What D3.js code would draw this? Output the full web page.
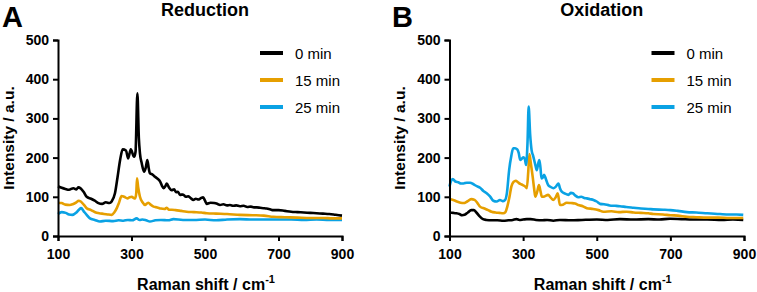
<!DOCTYPE html>
<html><head><meta charset="utf-8">
<script src="https://cdn.jsdelivr.net/npm/d3@7"></script>
<style>body{margin:0;background:#fff}svg{display:block;font-family:"Liberation Sans",Arial,sans-serif}</style>
</head><body><svg id="c" width="757" height="292"></svg>
<script>
const seriesNames = ["0 min","15 min","25 min"];
const seriesColors = ["#000000","#E69F00","#0AA2E4"];
const xTicks = [100,300,500,700,900];
const yTicks = [0,100,200,300,400,500];
const panelTitles = ["Reduction","Oxidation"];
const panelLetters = ["A","B"];

// Reduction
const redX0 = [100,110,120,130,142,150,155,162,170,178,190,200,210,220,230,240,246,255,262,269,276,285,291,298,307,311,316,320,323,328,334,339,343,347,350,357,364,371,378,383,387,392,396,402,409,416,421,426,432,440,448,455,462,468,475,482,488,495,500,505,515,525,533,541,550,560,568,577,585,595,605,615,625,633,641,650,660,668,677,686,700,720,740,760,780,800,820,840,860,880,900];
const redY0 = [127,123,120,118,122,119,124,121,112,100,95,90,84,82,86,84,88,109,150,194,221,218,198,221,202,215,364,250,211,185,164,175,194,172,160,157,151,146,139,128,122,127,134,124,117,119,112,113,105,106,100,101,96,92,95,93,96,99,90,82,85,84,82,79,81,78,79,77,78,76,77,74,75,73,73,72,71,70,68,66,66,64,62,61,60,59,58,57,56,54,52];
const redX15 = [100,110,120,132,140,150,156,162,170,178,190,205,220,235,246,253,260,266,273,280,289,295,301,306,310,313,315,318,323,330,337,342,346,352,360,370,380,390,396,402,410,420,435,450,470,490,505,530,560,595,630,660,686,720,760,800,840,870,900];
const redY15 = [85,84,80,79,81,86,90,88,80,71,66,59,57,55,54,60,71,85,102,100,96,99,100,97,96,110,147,125,100,86,79,83,85,80,75,73,70,69,72,67,67,66,64,62,61,60,58,57,56,54,53,52,49,48,47,46,46,45,45];
const redX25 = [100,110,121,130,139,150,157,163,170,178,187,200,214,230,250,265,278,290,302,314,322,330,340,350,365,380,400,414,440,470,500,530,560,595,630,660,700,740,780,820,860,900];
const redY25 = [56,61,59,55,54,60,67,71,63,54,45,41,37,39,38,40,39,41,40,45,41,42,40,37,40,41,40,43,41,41,42,40,42,43,42,42,42,42,41,42,41,41];

// Oxidation
const oxX0 = [100,110,118,127,134,141,150,159,166,173,182,191,200,215,230,246,260,272,282,290,300,310,320,335,350,365,382,400,430,460,500,530,563,600,640,670,699,730,760,800,840,870,898];
const oxY0 = [60,59,58,56,53,54,60,66,66,60,50,43,41,40,40,39,40,41,43,41,42,43,43,41,40,41,39,41,40,41,42,41,43,42,43,42,44,43,42,42,41,42,41];
const oxX15 = [100,110,120,130,138,148,159,168,176,183,195,205,214,225,235,246,252,257,263,268,274,280,286,292,299,306,310,314,317,321,326,330,333,338,343,347,351,358,368,375,382,388,394,400,408,418,430,441,450,462,473,490,505,518,540,560,581,600,620,640,654,680,700,720,745,770,800,830,860,898];
const oxY15 = [94,92,88,85,84,88,94,92,84,75,70,66,62,60,59,58,61,75,100,126,138,141,137,133,130,126,122,165,209,185,151,120,100,112,130,115,100,101,105,98,92,98,109,79,80,85,84,83,79,76,71,69,66,62,63,61,62,60,59,58,56,55,53,52,49,48,47,47,46,46];
const oxX25 = [100,104,109,116,124,131,138,147,156,165,174,183,192,201,210,219,228,237,244,251,256,262,268,273,278,284,288,292,297,301,305,308,312,315,319,323,327,330,334,337,341,344,347,350,354,357,362,368,375,382,389,396,400,405,414,423,430,435,442,450,458,466,473,482,491,500,509,520,535,550,563,580,600,620,640,654,680,700,720,745,770,800,835,860,880,898];
const oxY25 = [126,140,145,139,137,134,134,136,136,132,127,123,115,109,101,90,88,92,89,92,110,168,205,224,224,221,212,194,198,201,195,181,240,330,260,219,205,194,178,168,185,194,175,147,150,156,145,130,125,122,126,134,122,113,108,105,110,109,103,99,100,97,96,94,92,88,82,81,78,77,76,74,72,70,69,68,67,66,64,61,60,58,56,55,55,54];

const panels = [
  {dom:[100,700,900], rng:[58,278.5,342], series:[[redX0,redY0],[redX15,redY15],[redX25,redY25]], labelX:9, letterX:2},
  {dom:[100,900], rng:[449.5,744], series:[[oxX0,oxY0],[oxX15,oxY15],[oxX25,oxY25]], labelX:400, letterX:392}
];
const yTop = 40, yBot = 236;
const svg = d3.select("#c");

panels.forEach((p,pi)=>{
  const x = d3.scaleLinear().domain(p.dom).range(p.rng);
  const x0 = p.rng[0], x1 = p.rng[p.rng.length-1];
  const y = d3.scaleLinear().domain([0,500]).range([yBot,yTop]);
  const g = svg.append("g");
  const line = d3.line().x(d=>x(d[0])).y(d=>y(d[1])).curve(d3.curveMonotoneX);
  const order = pi===0 ? [2,1,0] : [0,1,2];
  order.forEach(si=>{
    const [xs,ys] = p.series[si];
    g.append("path").datum(xs.map((v,i)=>[v,ys[i]]))
      .attr("d",line).attr("fill","none").attr("stroke",seriesColors[si])
      .attr("stroke-width",2.6).attr("stroke-linejoin","round");
  });
  const xa = g.append("g").attr("transform",`translate(0,${yBot})`)
    .call(d3.axisBottom(x).tickValues(xTicks).tickSize(5).tickPadding(5).tickFormat(d3.format("d")));
  const ya = g.append("g").attr("transform",`translate(${x0},0)`)
    .call(d3.axisLeft(y).tickValues(yTicks).tickSize(5).tickPadding(4));
  [xa,ya].forEach(a=>{
    a.select(".domain").attr("stroke","#000").attr("stroke-width",2);
    a.selectAll(".tick line").attr("stroke","#000").attr("stroke-width",2);
    a.selectAll("text").attr("fill","#000").style("font-size","14px").style("font-weight","bold");
  });
  xa.selectAll("text").attr("dy","0.9em");
  g.append("text").attr("x",(x0+x1)/2+5).attr("y",16).attr("text-anchor","middle")
    .style("font-size","18px").style("font-weight","bold").text(panelTitles[pi]);
  g.append("text").attr("x",p.letterX).attr("y",27)
    .style("font-size","29px").style("font-weight","bold").text(panelLetters[pi]);
  const xt = g.append("text").attr("x",(x0+x1)/2+6).attr("y",290).attr("text-anchor","middle")
    .style("font-size","16px").style("font-weight","bold");
  xt.append("tspan").text("Raman shift / cm");
  xt.append("tspan").attr("dy",-7).style("font-size","11px").text("-1");
  g.append("text").attr("transform",`translate(${p.labelX+5},${(yTop+yBot)/2}) rotate(-90)`)
    .attr("text-anchor","middle").style("font-size","15.5px").style("font-weight","bold")
    .text("Intensity / a.u.");
  seriesNames.forEach((n,si)=>{
    const ly = 53 + si*27;
    const lx = x0 + 202;
    g.append("line").attr("x1",lx).attr("x2",lx+23).attr("y1",ly).attr("y2",ly)
      .attr("stroke",seriesColors[si]).attr("stroke-width",4);
    g.append("text").attr("x",lx+35).attr("y",ly+5.5).style("font-size","15px").text(n);
  });
});
</script></body></html>
